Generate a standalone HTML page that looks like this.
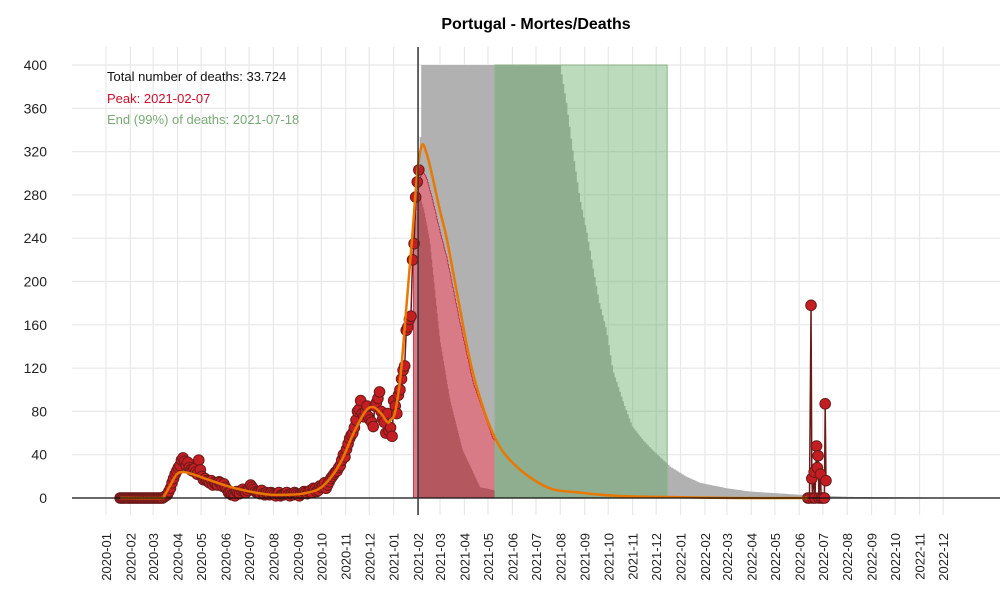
<!DOCTYPE html>
<html><head><meta charset="utf-8"><style>
body{margin:0;background:#fff}
svg{display:block;font-family:"Liberation Sans",sans-serif}
</style></head><body>
<svg id="chart" width="1000" height="600">
<text x="536" y="29" text-anchor="middle" font-weight="bold" font-size="16">Portugal - Mortes/Deaths</text>
<g id="grid"></g><g id="areas"></g><g id="series"></g><g id="axes"></g>
<text x="107" y="81" font-size="13" fill="#111">Total number of deaths: 33.724</text>
<text x="107" y="103" font-size="13" fill="#c8102e">Peak: 2021-02-07</text>
<text x="107" y="124" font-size="13" fill="#7aab77">End (99%) of deaths: 2021-07-18</text>
</svg>
<script>
// day index = days since 2020-01-01
const yTicks=[0,40,80,120,160,200,240,280,320,360,400];
const monthLabels=["2020-01","2020-02","2020-03","2020-04","2020-05","2020-06","2020-07","2020-08","2020-09","2020-10","2020-11","2020-12","2021-01","2021-02","2021-03","2021-04","2021-05","2021-06","2021-07","2021-08","2021-09","2021-10","2021-11","2021-12","2022-01","2022-02","2022-03","2022-04","2022-05","2022-06","2022-07","2022-08","2022-09","2022-10","2022-11","2022-12"];
const waveStartDay=18, waveStepDays=2;
const waveDeaths=[0,0,0,0,0,0,0,0,0,0,0,0,0,0,0,0,0,0,0,0,0,0,0,0,0,0,0,
0,1,2,3,6,9,14,18,22,25,28,30,35,37,34,30,33,28,26,25,27,24,22,35,26,20,17,18,16,15,14,16,12,14,13,12,15,14,11,13,10,8,5,5,3,3,2,6,5,4,7,8,6,5,7,9,12,10,8,6,5,5,4,7,4,3,5,4,3,5,4,3,2,4,5,2,3,3,4,5,3,2,4,3,5,4,3,2,4,4,6,5,4,6,7,5,9,8,6,7,11,10,12,14,9,12,15,18,20,22,24,25,28,30,35,40,38,45,50,55,58,60,65,72,80,82,90,78,75,80,85,75,72,70,66,85,88,92,98,80,73,70,60,78,62,65,57,90,85,78,95,100,110,118,122,155,158,165,168,220,235,278,292,303];
const lateDays=[893,895,897,898,899,901,902,904,905,906,907,909,910,912,914,915,916];
const lateDeaths=[0,0,178,18,0,24,0,48,28,39,0,22,0,0,0,87,16];
const fitDays=[18,70,74,82,90,98,110,130,150,170,190,210,230,250,270,285,300,315,330,340,350,358,362,368,375,382,390,396,402,408,415,425,434,450,467,492,518,561,603,650,700,800,893];
const fitDeaths=[0,0,2,12,22,24,22,17,12,8,5,3,3,4,8,18,35,60,80,84,78,70,72,80,115,175,245,300,326,318,298,265,238,176,115,60,32,10,5,2,1,0,0];
const projDays=[397,399,402,578,586,594,603,612,620,628,637,645,660,670,684,696,718,738,756,790,819,883,947,1137];
const projDeaths=[0,300,400,400,365,321,277,245,212,180,155,118,85,66,53,44,29,20,14,9,6,3,1,0];
const lowDays=[397,405,412,425,438,454,476,495];
const lowDeaths=[285,265,238,146,90,44,10,7];
const peakWindow=[391,495]; const endWindow=[495,714]; const markerDay=397;

const X=d=>106+d*0.786, Y=v=>498-v*433/400;
const ns="http://www.w3.org/2000/svg";
function mk(tag,parent,attrs){const e=document.createElementNS(ns,tag);for(const k in attrs)e.setAttribute(k,attrs[k]);document.getElementById(parent).appendChild(e);return e;}
function interp(days,vals,d){if(d<=days[0])return vals[0];for(let i=1;i<days.length;i++){if(d<=days[i]){const t=(d-days[i-1])/(days[i]-days[i-1]);return vals[i-1]+t*(vals[i]-vals[i-1]);}}return vals[vals.length-1];}
function smoothPath(days,vals){
 const p=days.map((d,i)=>[X(d),Y(vals[i])]);let s=`M${p[0][0]},${p[0][1]}`;
 for(let i=0;i<p.length-1;i++){const p0=p[i-1]||p[i],p1=p[i],p2=p[i+1],p3=p[i+2]||p2;
  const c1=[p1[0]+(p2[0]-p0[0])/6,p1[1]+(p2[1]-p0[1])/6],c2=[p2[0]-(p3[0]-p1[0])/6,p2[1]-(p3[1]-p1[1])/6];
  s+=` C${c1[0]},${c1[1]} ${c2[0]},${c2[1]} ${p2[0]},${p2[1]}`;}
 return s;}
const monthStart=[0,31,60,91,121,152,182,213,244,274,305,335,366,397,425,456,486,517,547,578,609,639,670,700,731,762,790,821,851,882,912,943,974,1004,1035,1065];
yTicks.forEach(v=>{
 const l=mk('line','grid',{x1:72,x2:1000,y1:Y(v),y2:Y(v),stroke:'#e8e8e8','stroke-width':1.2});
 
 
 const t=mk('text','axes',{x:47,y:Y(v)+5,'text-anchor':'end','font-size':14,fill:'#222'});t.textContent=v;
 
 
});
monthLabels.forEach((m,i)=>{
 const x=X(monthStart[i]);
 const l=mk('line','grid',{x1:x,x2:x,y1:47,y2:515,stroke:'#e8e8e8','stroke-width':1.2});
 
 
 const t=mk('text','axes',{x:0,y:0,'text-anchor':'end','font-size':13,fill:'#222',transform:`translate(${x+5},533) rotate(-90)`});t.textContent=m;
 
 
});
function stepPts(days,vals,from,to,step){let s=`${X(from)},${Y(0)} `;for(let d=from;d<to;d+=step){const v=Math.min(400,interp(days,vals,d+step/2));s+=`${X(d)},${Y(v)} ${X(d+step)},${Y(v)} `;}return s+`${X(to)},${Y(0)}`;}
let pg=mk('polygon','areas',{points:stepPts(projDays,projDeaths,397,1137,2),fill:'#b1b1b1'});


let pp=mk('polygon','areas',{points:stepPts(fitDays,fitDeaths.map(v=>Math.max(0,v*0.93)),peakWindow[0],peakWindow[1],1),fill:'#d97b86',stroke:'#c8102e','stroke-width':0.6});


let pl=mk('polygon','areas',{points:stepPts(lowDays,lowDeaths,397,495,1),fill:'#b4575e'});


let gr=mk('rect','areas',{x:X(endWindow[0]),y:Y(400),width:X(endWindow[1])-X(endWindow[0]),height:Y(0)-Y(400),fill:'rgba(100,170,100,0.43)',stroke:'#8fb58d','stroke-width':1});


let zl=mk('line','axes',{x1:72,x2:1000,y1:Y(0),y2:Y(0),stroke:'#111','stroke-width':1.2});


let vl=mk('line','axes',{x1:X(markerDay),x2:X(markerDay),y1:47,y2:515,stroke:'#333','stroke-width':1.5});


const waveDays=waveDeaths.map((_,i)=>waveStartDay+i*waveStepDays);
[[waveDays,waveDeaths],[lateDays,lateDeaths]].forEach(([ds,vs])=>{
 const l=mk('polyline','series',{points:ds.map((d,i)=>X(d)+','+Y(vs[i])).join(' '),fill:'none',stroke:'#6b1a1a','stroke-width':1.5});
 
 
 ds.forEach((d,i)=>{
  const c=mk('circle','series',{cx:X(d),cy:Y(vs[i]),r:5.3,fill:'#c41e22',stroke:'#6b1a1a','stroke-width':1});
  
  
 });
});
let fl=mk('path','series',{d:smoothPath(fitDays,fitDeaths),fill:'none',stroke:'#e87800','stroke-width':2.5,'stroke-linejoin':'round'});


</script>
</body></html>
